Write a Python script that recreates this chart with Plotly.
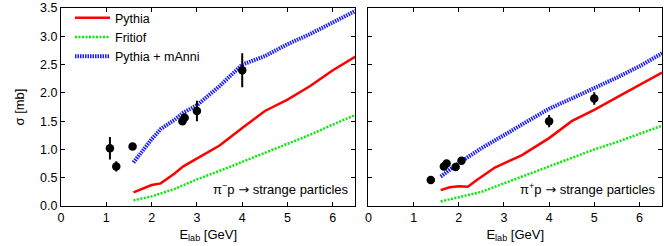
import plotly.graph_objects as go

# ---------------- data ----------------
# pi- p  (left panel)
L_pythia_x = [1.6, 2.0, 2.2, 2.5, 2.7, 3.0, 3.5, 4.0, 4.5, 5.0, 5.5, 6.0, 6.5]
L_pythia_y = [0.24, 0.37, 0.40, 0.57, 0.70, 0.84, 1.07, 1.38, 1.68, 1.88, 2.12, 2.40, 2.64]
L_fritiof_x = [1.6, 2.0, 2.5, 3.0, 3.5, 4.0, 4.5, 5.0, 5.5, 6.0, 6.5]
L_fritiof_y = [0.10, 0.17, 0.30, 0.47, 0.62, 0.78, 0.94, 1.10, 1.26, 1.44, 1.61]
L_manni_x = [1.6, 1.8, 2.0, 2.2, 2.5, 2.7, 3.0, 3.5, 4.0, 4.5, 5.0, 5.5, 6.0, 6.5]
L_manni_y = [0.77, 0.98, 1.18, 1.36, 1.52, 1.65, 1.78, 2.12, 2.50, 2.65, 2.86, 3.04, 3.24, 3.45]
L_data_x = [1.08, 1.22, 1.58, 2.68, 2.73, 3.0, 4.0]
L_data_y = [1.02, 0.70, 1.05, 1.50, 1.56, 1.68, 2.40]
L_data_err = [0.20, 0.09, 0.03, 0.05, 0.08, 0.18, 0.30]

# pi+ p  (right panel)
R_pythia_x = [1.6, 1.8, 2.0, 2.2, 2.4, 2.8, 3.4, 4.0, 4.5, 5.0, 5.5, 6.0, 6.5]
R_pythia_y = [0.28, 0.33, 0.35, 0.34, 0.46, 0.68, 0.90, 1.20, 1.50, 1.70, 1.92, 2.14, 2.36]
R_fritiof_x = [1.6, 2.0, 2.5, 3.0, 3.5, 4.0, 4.5, 5.0, 5.5, 6.0, 6.5]
R_fritiof_y = [0.08, 0.15, 0.25, 0.40, 0.55, 0.70, 0.85, 1.00, 1.13, 1.28, 1.42]
R_manni_x = [1.6, 2.0, 2.5, 3.0, 3.5, 4.0, 4.5, 5.0, 5.5, 6.0, 6.5]
R_manni_y = [0.52, 0.76, 1.02, 1.26, 1.50, 1.72, 1.90, 2.08, 2.27, 2.47, 2.70]
R_data_x = [1.38, 1.67, 1.73, 1.93, 2.06, 4.0, 5.0]
R_data_y = [0.46, 0.70, 0.75, 0.69, 0.80, 1.50, 1.90]
R_data_err = [0.03, 0.05, 0.06, 0.07, 0.06, 0.11, 0.11]

x_ticks = [0, 1, 2, 3, 4, 5, 6]
y_ticks = [0.0, 0.5, 1.0, 1.5, 2.0, 2.5, 3.0, 3.5]
y_tick_text = ["0.0", "0.5", "1.0", "1.5", "2.0", "2.5", "3.0", "3.5"]

RED = "#ff0000"
GREEN = "#00ee00"
BLUE = "#1a1aff"
FONT = "Liberation Sans, Arial, sans-serif"

fig = go.Figure()


def add_panel(xa, ya, px, py, fx, fy, mx, my, dx, dy, de, legend):
    fig.add_trace(go.Scatter(x=px, y=py, mode="lines", name="Pythia",
                             line=dict(color=RED, width=2.5),
                             xaxis=xa, yaxis=ya, showlegend=legend))
    fig.add_trace(go.Scatter(x=fx, y=fy, mode="lines", name="Fritiof",
                             line=dict(color=GREEN, width=2.5, dash="2px,1.5px"),
                             xaxis=xa, yaxis=ya, showlegend=legend))
    fig.add_trace(go.Scatter(x=mx, y=my, mode="lines", name="Pythia + mAnni",
                             line=dict(color=BLUE, width=4, dash="1.5px,1px"),
                             xaxis=xa, yaxis=ya, showlegend=legend))
    fig.add_trace(go.Scatter(x=dx, y=dy, mode="markers",
                             marker=dict(color="black", size=8.5),
                             error_y=dict(type="data", array=de, color="black",
                                          thickness=2, width=0),
                             xaxis=xa, yaxis=ya, showlegend=False))


add_panel("x", "y", L_pythia_x, L_pythia_y, L_fritiof_x, L_fritiof_y,
          L_manni_x, L_manni_y, L_data_x, L_data_y, L_data_err, True)
add_panel("x2", "y2", R_pythia_x, R_pythia_y, R_fritiof_x, R_fritiof_y,
          R_manni_x, R_manni_y, R_data_x, R_data_y, R_data_err, False)

axis_common = dict(showgrid=False, zeroline=False, showline=True, linecolor="black",
                   linewidth=1, mirror="ticks", ticks="inside", ticklen=4,
                   tickcolor="black", ticklabeloverflow="allow",
                   tickfont=dict(size=12.5, color="black", family=FONT))

ARROW = '<span style="font-family:DejaVu Sans">→</span>'

fig.update_layout(
    width=664, height=246,
    margin=dict(l=61, r=1, t=5, b=40),
    paper_bgcolor="white", plot_bgcolor="white",
    font=dict(family=FONT, color="black"),
    xaxis=dict(domain=[0, 0.49], range=[0, 6.5], tickvals=x_ticks,
               title=dict(text="E<sub>lab</sub> [GeV]", font=dict(size=13), standoff=5),
               **axis_common),
    yaxis=dict(range=[0, 3.5001], tickvals=y_ticks, ticktext=y_tick_text,
               title=dict(text="σ [mb]", font=dict(size=13), standoff=12),
               **axis_common),
    xaxis2=dict(domain=[0.5116, 1], range=[0, 6.5], tickvals=x_ticks, anchor="y2",
                title=dict(text="E<sub>lab</sub> [GeV]", font=dict(size=13), standoff=5),
                **axis_common),
    yaxis2=dict(range=[0, 3.5001], tickvals=y_ticks, showticklabels=False, anchor="x2",
                **axis_common),
    legend=dict(x=0.015, y=1.025, xanchor="left", yanchor="top",
                bgcolor="rgba(0,0,0,0)", font=dict(size=12.5, color="black"),
                tracegroupgap=0, itemwidth=35),
    annotations=[
        dict(text="π<sup>−</sup>p " + ARROW + " strange particles", xref="x domain", yref="y",
             x=0.985, y=0.3, xanchor="right", yanchor="middle", showarrow=False,
             font=dict(size=13, color="black")),
        dict(text="π<sup>+</sup>p " + ARROW + " strange particles", xref="x2 domain", yref="y2",
             x=0.985, y=0.3, xanchor="right", yanchor="middle", showarrow=False,
             font=dict(size=13, color="black")),
    ],
)

fig.write_html("out.html", config={"displayModeBar": False},
               post_script="document.body.style.margin='0';document.body.style.overflow='hidden';")
